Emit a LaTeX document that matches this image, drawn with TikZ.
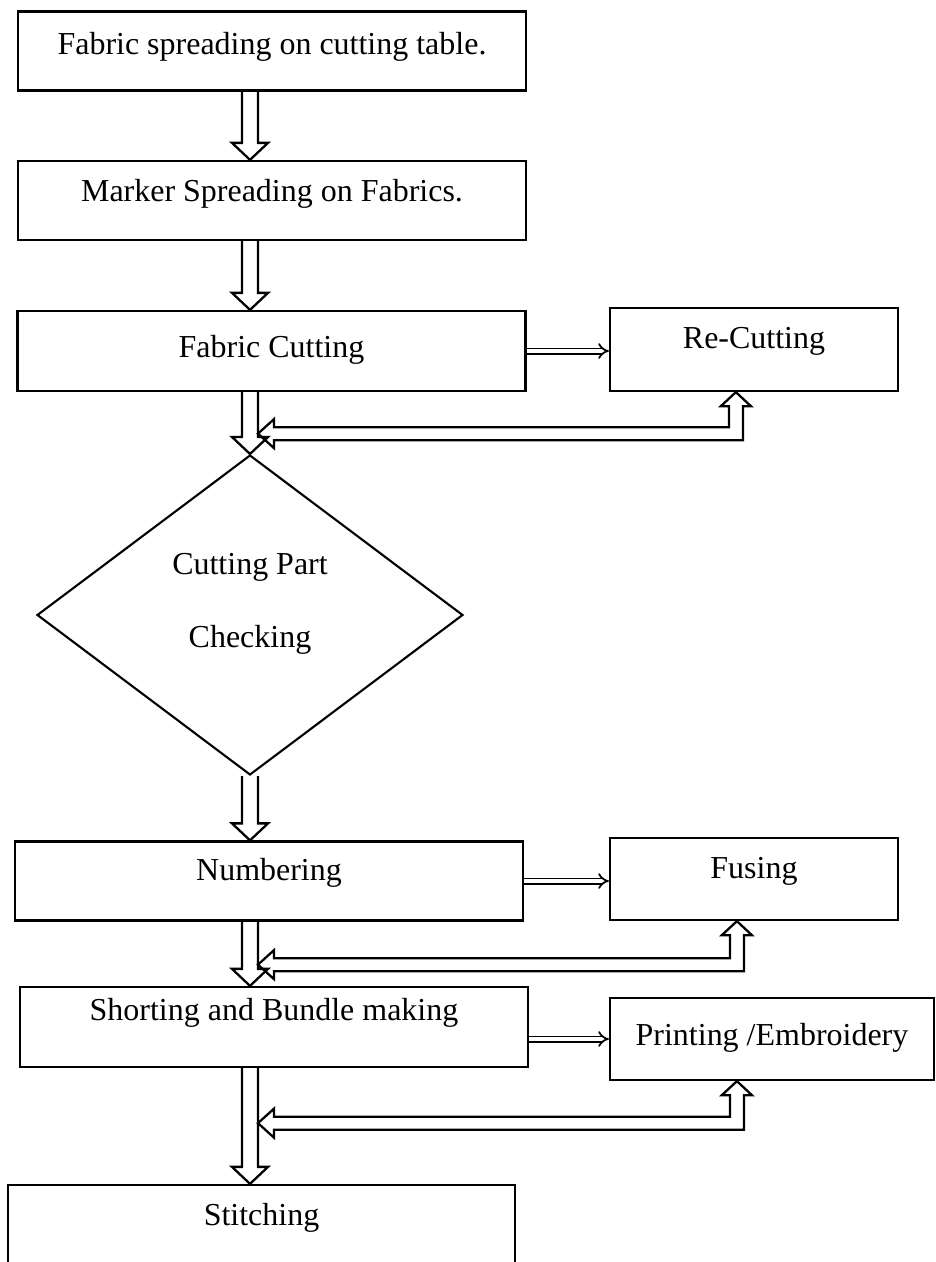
\documentclass[tikz,border=0pt]{standalone}
\usepackage{fontspec}
\setmainfont{Liberation Serif}
\usetikzlibrary{arrows.meta, shapes.geometric, calc}

% hollow block arrow going down, #1 = start on the box, #2 = tip
\newcommand{\blockdown}[2]{%
  \draw[hollow] ($(#1)+(-8,0)$) -- ($(#2)+(-8,-17)$) -- ++(-10,0) -- (#2)
    -- ++(18,-17) -- ++(-10,0) -- ($(#1)+(8,0)$);}
% hollow L-shaped arrow back to the main line, #1 = tip under the side box, #2 = tip at the main arrow
\newcommand{\backarrow}[2]{%
  \draw[hollow] (#1) -- ++(15,14) -- ++(-8,0) |- ($(#2)+(16,6.5)$) -- ++(0,8)
    -- (#2) -- ++(16,-14.5) -- ++(0,8) -| ($(#1)+(-7,14)$) -- ++(-8,0) -- cycle;}

\begin{document}
\begin{tikzpicture}[x=0.02cm, y=-0.02cm,
  font=\fontsize{18.2pt}{22pt}\selectfont,
  box/.style={draw, line width=1.3pt, minimum width=10.16cm, minimum height=1.58cm,
    inner sep=0pt, text height=0.44cm, text depth=#1},
  box/.default=0.34cm,
  sidebox/.style={box=#1, minimum width=5.76cm, minimum height=1.66cm},
  sidebox/.default=0.34cm,
  decision/.style={diamond, draw, line width=1.2pt, minimum width=8.52cm, minimum height=6.4cm, inner sep=0pt},
  hollow/.style={line width=1.3pt, line join=miter},
  link/.style={double, double distance=0.07cm, line width=1pt, -{Implies}}]
\useasboundingbox (0,0) rectangle (936,1262); %page size

\node[box=0.30cm] (spread) at (272,51) {Fabric spreading on cutting table.};
\node[box=0.40cm] (marker) at (272,200.5) {Marker Spreading on Fabrics.};
\node[box=0.20cm, minimum height=1.6cm] (cut) at (271.5,351) {Fabric Cutting};
\node[sidebox=0.48cm] (recut) at (754,349.5) {Re-Cutting};
\node[decision] (check) at (250,615) {};
\node[align=center] (checktxt) at (250,604) {Cutting Part\\[19.5pt]Checking};
\node[box=0.46cm] (number) at (269,881) {Numbering};
\node[sidebox=0.48cm, minimum height=1.64cm] (fusing) at (754,879) {Fusing};
\node[box=0.70cm, minimum height=1.6cm] (bundle) at (274,1027) {Shorting and Bundle making};
\node[sidebox=0.18cm, minimum width=6.48cm, minimum height=1.64cm] (print) at (772,1039) {Printing /Embroidery\hspace{0.3cm}};
\node[box=1.24cm, minimum width=10.14cm, minimum height=2.4cm] (stitch) at (261.5,1245) {Stitching};

% main line
\blockdown{spread.south -| check.north}{marker.north -| check.north}
\blockdown{marker.south -| check.north}{cut.north -| check.north}
\blockdown{cut.south -| check.north}{check.north}
\blockdown{check.south}{number.north -| check.south}
\blockdown{number.south -| check.south}{bundle.north -| check.south}
\blockdown{bundle.south -| check.south}{stitch.north -| check.south}

% side steps
\draw[link] (cut.east) -- (cut.east -| recut.west);
\draw[link] (number.east) -- (number.east -| fusing.west);
\draw[link] (bundle.east |- print.west) -- (print.west);

\coordinate (up1) at ($(recut.south west)+(127,0)$);
\coordinate (back1) at ($(cut.south -| check.north)+(8,41.5)$);
\backarrow{up1}{back1}
\coordinate (up2) at ($(fusing.south west)+(128,0)$);
\coordinate (back2) at ($(number.south -| check.north)+(8,43)$);
\backarrow{up2}{back2}
\coordinate (up3) at ($(print.south west)+(128,0)$);
\coordinate (back3) at ($(print.south -| check.north)+(8,42)$);
\backarrow{up3}{back3}
\end{tikzpicture}
\end{document}
